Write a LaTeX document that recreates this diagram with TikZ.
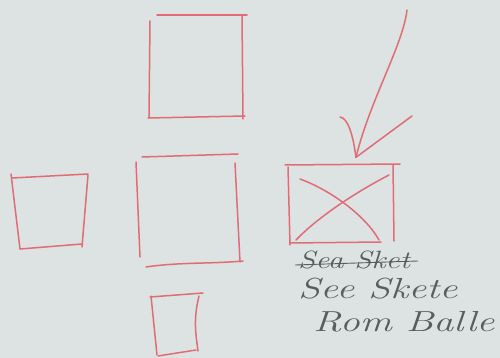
\documentclass[tikz,border=0pt]{standalone}
\usetikzlibrary{calc}
\definecolor{paper}{RGB}{221,226,226}
\definecolor{pencil}{RGB}{224,108,118}
\definecolor{graphite}{RGB}{90,93,96}
\tikzset{
  pen/.style={draw=pencil, line width=1.5pt, line cap=round, line join=round},
  note/.style={text=graphite, anchor=base west, inner sep=0pt, font=\fontsize{29}{32}\selectfont\itshape},
  smallnote/.style={note, font=\fontsize{25}{28}\selectfont\itshape},
}
\newcommand{\wide}[1]{\scalebox{1.38}[1]{#1}}
\begin{document}
\begin{tikzpicture}[x=1pt,y=-1pt]
\fill[paper] (0,0) rectangle (500,358);
\useasboundingbox (0,0) rectangle (500,358);
% named regions of the boxes
\node[inner sep=0pt, minimum width=93pt, minimum height=100pt] (top) at (196,67) {};
\node[inner sep=0pt, minimum width=100pt, minimum height=106pt] (mid) at (189,209) {};
\node[inner sep=0pt, minimum width=72pt, minimum height=72pt] (left) at (50,211) {};
\node[inner sep=0pt, minimum width=48pt, minimum height=58pt] (small) at (176,325) {};
\node[inner sep=0pt, minimum width=105pt, minimum height=79pt] (xbox) at (340,204) {};
% top square
\draw[pen] (157,15) -- (247,15);
\draw[pen] (150,21) -- (149,118);
\draw[pen] (242,15) -- (243,119);
\draw[pen] (148,118) -- (245,116);
% middle square
\draw[pen] (142,157) -- (238,154);
\draw[pen] (136,162) -- (140,257);
\draw[pen] (235,163) -- (240,262);
\draw[pen] (146,267) .. controls (180,262) and (210,264) .. (243,261);
% left square
\draw[pen] (12,178) -- (88,174);
\draw[pen] (11,174) -- (20,249);
\draw[pen] (88,175) -- (82,247);
\draw[pen] (20,249) -- (82,244);
% bottom small square
\draw[pen] (150,297) -- (203,293);
\draw[pen] (151,296) -- (157,355);
\draw[pen] (199,296) .. controls (193,320) and (196,335) .. (198,351);
\draw[pen] (158,356) -- (196,350);
% crossed box
\draw[pen] (285,165) -- (400,164);
\draw[pen] (288,167) -- (290,245);
\draw[pen] (393,165) -- (394,241);
\draw[pen] (290,243) -- (381,242);
\draw[pen] (300,179) .. controls (330,190) and (365,215) .. (379,240);
\draw[pen] (389,175) .. controls (360,190) and (320,215) .. (296,240);
% arrow
\coordinate (arrowtail) at (407,10);
\coordinate (tip) at ($(xbox.north -| 356,0)+(0,-7)$);
\draw[pen] (arrowtail) .. controls (403,45) and (370,100) .. (tip);
\draw[pen] (340,117) .. controls (348,118) and (353,135) .. (tip);
\draw[pen] (412,116) -- (tip);
% notes
\node[smallnote] (n1) at (298,268) {\scalebox{1.25}[1]{Sea Sket}};
\draw[graphite, line width=0.9pt] (295,265) -- (418,261);
\node[note] (n2) at (298,298) {\wide{See Skete}};
\node[note] (n3) at (313,331) {\wide{Rom Balle}};
\end{tikzpicture}
\end{document}
